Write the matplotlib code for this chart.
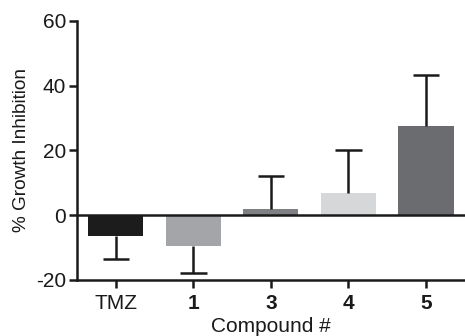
import matplotlib
matplotlib.use("Agg")
import matplotlib.pyplot as plt

categories = ["TMZ", "1", "3", "4", "5"]
values = [-6.3, -9.4, 1.8, 7.0, 27.6]
errors = [7.1, 8.4, 10.2, 13.1, 15.6]
colors = ["#1c1c1c", "#a4a5a9", "#7f8084", "#d6d7d9", "#6b6c70"]
yticks = [-20, 0, 20, 40, 60]

plt.rcParams['font.family'] = ['Liberation Sans', 'DejaVu Sans']
plt.rcParams['axes.unicode_minus'] = False
fig = plt.figure(figsize=(4.65, 3.36), dpi=100)
ax = fig.add_axes([0.1656, 0.1667, 0.834, 0.771])

x = list(range(len(categories)))
ax.bar(x, values, width=0.71, color=colors, zorder=2)
cap = 0.17
ecol = '#1a1a1a'
for xi, v, e in zip(x, values, errors):
    end = v + e if v >= 0 else v - e
    ax.plot([xi, xi], [v, end], color=ecol, lw=1.8, zorder=3, solid_capstyle='butt')
    ax.plot([xi - cap, xi + cap], [end, end], color=ecol, lw=1.8, zorder=3, solid_capstyle='butt')
ax.axhline(0, color=ecol, lw=1.8, zorder=4)

ax.set_xlim(-0.5, 4.5)
ax.set_ylim(-20, 60)
ax.set_yticks(yticks)
ax.set_xticks(x)
ax.set_xticklabels(categories)
for i, lab in enumerate(ax.get_xticklabels()):
    if i > 0:
        lab.set_fontweight('bold')
ax.tick_params(axis='both', labelsize=15, width=1.8, length=6, color=ecol, labelcolor=ecol, direction='out', pad=2)
ax.tick_params(axis='x', pad=4)
for s in ['top', 'right']:
    ax.spines[s].set_visible(False)
for s in ['left', 'bottom']:
    ax.spines[s].set_linewidth(1.8)
    ax.spines[s].set_color(ecol)
ax.set_ylabel('% Growth Inhibition', fontsize=13.7, color=ecol, labelpad=4)
ax.set_xlabel('Compound #', fontsize=15, color=ecol, labelpad=3)

fig.savefig('out.png', dpi=100)
